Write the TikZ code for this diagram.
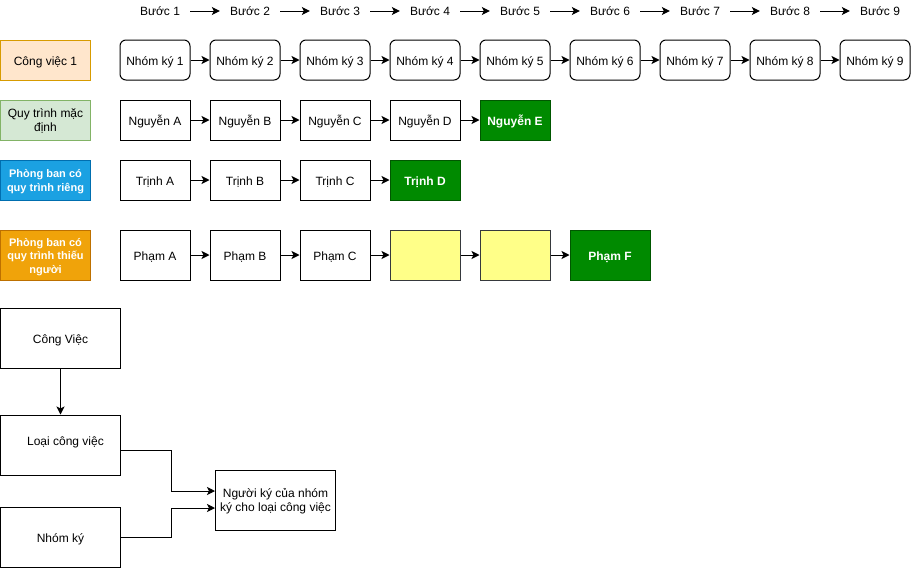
\documentclass[tikz,border=0pt]{standalone}
\usepackage{fontspec}
\setmainfont{Liberation Sans}
\usetikzlibrary{arrows.meta}

\definecolor{peachfill}{HTML}{FFE6CC}
\definecolor{peachline}{HTML}{D79B00}
\definecolor{mintfill}{HTML}{D5E8D4}
\definecolor{mintline}{HTML}{82B366}
\definecolor{bluefill}{HTML}{1BA1E2}
\definecolor{blueline}{HTML}{006EAF}
\definecolor{orangefill}{HTML}{F0A30A}
\definecolor{orangeline}{HTML}{BD7000}
\definecolor{greenfill}{HTML}{008A00}
\definecolor{greenline}{HTML}{005700}
\definecolor{yellowfill}{HTML}{FFFF88}
\definecolor{yellowline}{HTML}{36393D}

% stacked lines, baseline on the first line
\newcommand{\lines}[1]{\begin{tabular}[t]{@{}c@{}}#1\end{tabular}}

\tikzset{
  base/.style={draw, line width=1pt, inner sep=0pt,
    font=\fontsize{12}{14}\selectfont},
  oneline/.style={text height=11pt, text depth=0pt},
  twolines/.style={text height=0pt, text depth=4.5pt},
  threelines/.style={text height=0pt, text depth=18pt},
  rowlabel/.style={base, minimum width=90pt, minimum height=40pt},
  boldlabel/.style={rowlabel, text=white, font=\fontsize{11}{13.5}\selectfont\bfseries},
  groupbox/.style={base, oneline, rounded corners=6pt, minimum width=70pt, minimum height=40pt},
  person/.style={base, oneline, minimum width=70pt, minimum height=40pt},
  tallperson/.style={person, minimum height=50pt},
  final/.style={fill=greenfill, draw=greenline, text=white, font=\fontsize{12}{14}\selectfont\bfseries},
  pending/.style={fill=yellowfill, draw=yellowline},
  stepname/.style={inner sep=0pt, minimum width=60pt, text height=8pt, text depth=0pt,
    font=\fontsize{12}{14}\selectfont},
  bigbox/.style={base, minimum width=120pt, minimum height=60pt},
  arr/.style={line width=1pt, -{Stealth[length=8pt, width=8pt, inset=2pt]}},
}

\begin{document}
\begin{tikzpicture}[x=1pt, y=-1pt]
\useasboundingbox (0,0) rectangle (911,568);

% step headers
\foreach \i in {1,...,9} {
  \node[stepname] (b\i) at ({160+90*(\i-1)}, 11) {Bước \i};
}
\foreach \i [evaluate=\i as \j using int(\i+1)] in {1,...,8} {
  \draw[arr] (b\i) -- (b\j);
}

% row labels
\node[rowlabel, oneline, fill=peachfill, draw=peachline] (l1) at (45.5,60) {Công việc 1};
\node[rowlabel, twolines, fill=mintfill, draw=mintline] (l2) at (45.5,120) {\lines{Quy trình mặc\\định}};
\node[boldlabel, twolines, fill=bluefill, draw=blueline] (l3) at (45.5,180) {\lines{Phòng ban có\\quy trình riêng}};
\node[boldlabel, threelines, fill=orangefill, draw=orangeline, minimum height=50pt] (l4) at (45.5,255)
  {\lines{Phòng ban có\\quy trình thiếu\\người}};

% signing groups
\foreach \i in {1,...,9} {
  \node[groupbox] (g\i) at ({155+90*(\i-1)}, 60) {Nhóm ký \i};
}
\foreach \i [evaluate=\i as \j using int(\i+1)] in {1,...,8} {
  \draw[arr] (g\i) -- (g\j);
}

% default process
\node[person] (n1) at (155,120) {Nguyễn A};
\node[person] (n2) at (245,120) {Nguyễn B};
\node[person] (n3) at (335,120) {Nguyễn C};
\node[person] (n4) at (425,120) {Nguyễn D};
\node[person, final] (n5) at (515,120) {Nguyễn E};
\draw[arr] (n1) -- (n2);
\draw[arr] (n2) -- (n3);
\draw[arr] (n3) -- (n4);
\draw[arr] (n4) -- (n5);

% department with its own process
\node[person] (t1) at (155,180) {Trịnh A};
\node[person] (t2) at (245,180) {Trịnh B};
\node[person] (t3) at (335,180) {Trịnh C};
\node[person, final] (t4) at (425,180) {Trịnh D};
\draw[arr] (t1) -- (t2);
\draw[arr] (t2) -- (t3);
\draw[arr] (t3) -- (t4);

% department lacking people
\node[tallperson] (p1) at (155,255) {Phạm A};
\node[tallperson] (p2) at (245,255) {Phạm B};
\node[tallperson] (p3) at (335,255) {Phạm C};
\node[tallperson, pending] (p4) at (425,255) {};
\node[tallperson, pending] (p5) at (515,255) {};
\node[tallperson, final, minimum width=80pt] (p6) at (610,255) {Phạm F};
\draw[arr] (p1) -- (p2);
\draw[arr] (p2) -- (p3);
\draw[arr] (p3) -- (p4);
\draw[arr] (p4) -- (p5);
\draw[arr] (p5) -- (p6);

% data model
\node[bigbox, oneline] (cv) at (60.5,338) {Công Việc};
\node[bigbox, text height=0pt, text depth=0pt] (loai) at (60.5,445) {\hspace*{10pt}Loại công việc};
\node[bigbox, oneline] (nk) at (60.5,537) {Nhóm ký};
\node[bigbox, twolines] (nguoi) at (275.5,500) {\lines{Người ký của nhóm\\ký cho loại công việc}};
\draw[arr] (cv) -- (loai);
\draw[arr] ([yshift=-5pt]loai.east) -- ++(50.5,0) |- ([yshift=9pt]nguoi.west);
\draw[arr] (nk.east) -- ++(50.5,0) |- ([yshift=-8pt]nguoi.west);
\end{tikzpicture}
\end{document}
